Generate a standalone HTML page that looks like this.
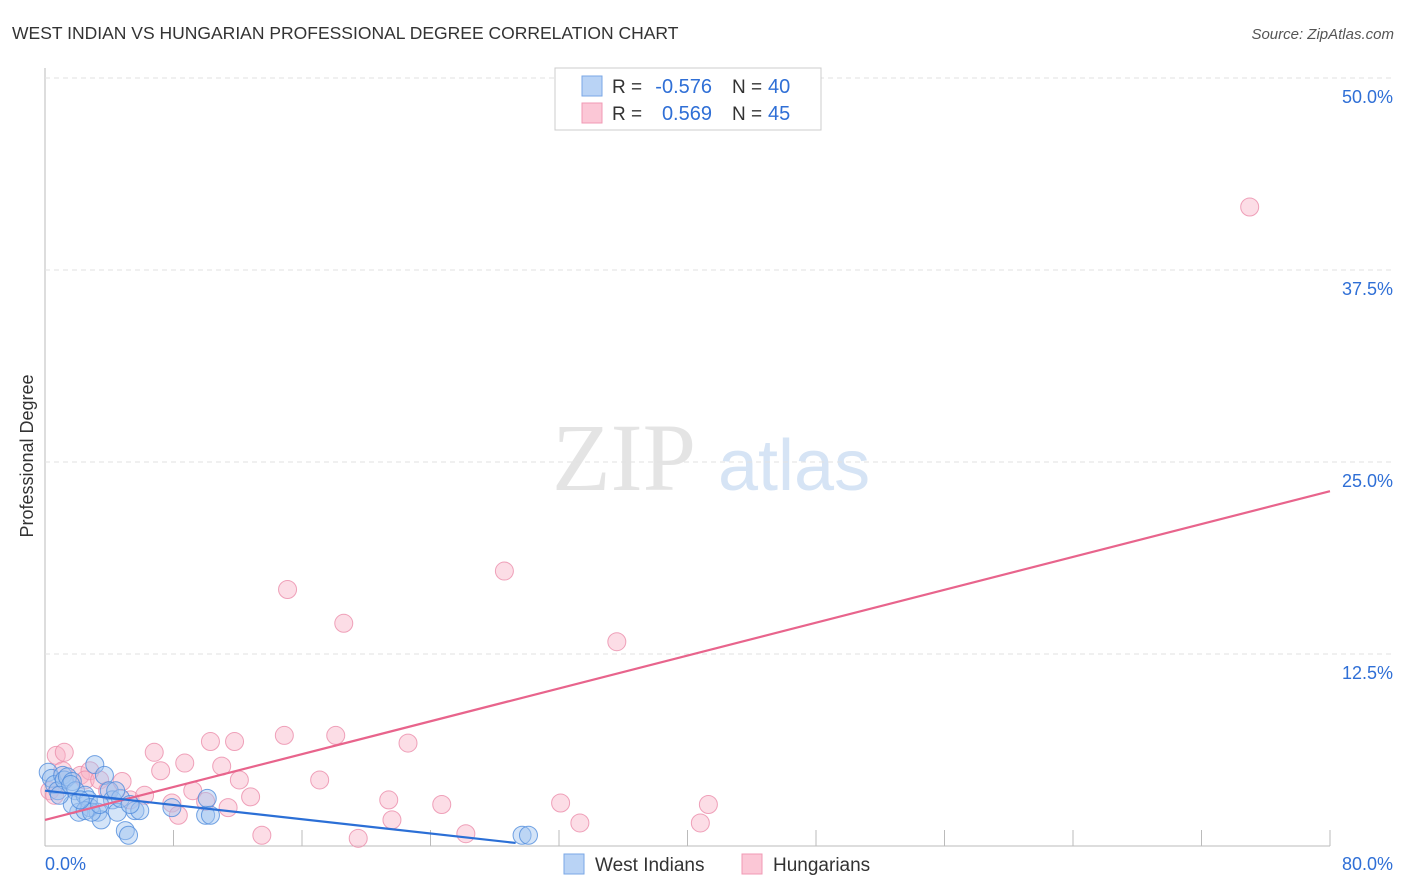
<!DOCTYPE html>
<html><head><meta charset="utf-8"><style>
body{margin:0;background:#fff;font-family:"Liberation Sans",sans-serif;}
#wrap{position:relative;width:1406px;height:892px;overflow:hidden}
</style></head><body>
<div id="wrap">
<svg id="svg" width="1406" height="892">
<text x="12" y="39" font-size="17.5" fill="#333">WEST INDIAN VS HUNGARIAN PROFESSIONAL DEGREE CORRELATION CHART</text>
<text x="1394" y="39" font-size="15" fill="#555" font-style="italic" text-anchor="end">Source: ZipAtlas.com</text>
<text x="33" y="456" font-size="18" fill="#333" text-anchor="middle" transform="rotate(-90 33 456)">Professional Degree</text>
<text x="552" y="490" font-size="96" fill="#e4e4e4" font-family="Liberation Serif,serif">ZIP</text>
<text x="718" y="490" font-size="72" fill="#d6e4f5">atlas</text>
<g id="grid"></g><g id="marks"></g>
<g>
<rect x="555" y="68" width="266" height="62" fill="#fff" stroke="#ccc"/>
<rect x="582" y="76" width="20" height="20" fill="#b9d3f5" stroke="#7aa7e6"/>
<rect x="582" y="103" width="20" height="20" fill="#fbc7d6" stroke="#f09ab4"/>
<text x="612" y="93" font-size="19" fill="#333">R =</text>
<text x="712" y="93" font-size="20" fill="#2f6fd6" text-anchor="end">-0.576</text>
<text x="732" y="93" font-size="19" fill="#333">N =</text>
<text x="768" y="93" font-size="20" fill="#2f6fd6">40</text>
<text x="612" y="120" font-size="19" fill="#333">R =</text>
<text x="712" y="120" font-size="20" fill="#2f6fd6" text-anchor="end">0.569</text>
<text x="732" y="120" font-size="19" fill="#333">N =</text>
<text x="768" y="120" font-size="20" fill="#2f6fd6">45</text>
</g>
<g>
<rect x="564" y="854" width="20" height="20" fill="#b9d3f5" stroke="#7aa7e6"/>
<text x="595" y="871" font-size="19" fill="#333">West Indians</text>
<rect x="742" y="854" width="20" height="20" fill="#fbc7d6" stroke="#f09ab4"/>
<text x="773" y="871" font-size="19" fill="#333">Hungarians</text>
</g>
</svg>
</div>
<script>
const blueX=[0.2,0.4,0.6,0.8,1.1,1.2,1.4,1.7,1.9,2.1,1.7,2.5,2.7,2.8,3.1,3.3,3.5,3.7,4.0,4.2,4.5,4.7,5.0,5.2,5.6,5.9,7.9,10.0,10.1,10.3,29.7,30.1,2.5,2.9,0.9,1.6,2.2,3.4,4.4,5.3];
const blueY=[4.8,4.4,4.0,3.6,4.6,4.3,4.5,4.2,3.6,2.2,2.7,3.3,3.0,2.5,5.3,2.2,1.7,4.6,3.6,3.0,2.2,3.1,1.0,0.7,2.3,2.3,2.5,2.0,3.1,2.0,0.7,0.7,2.3,2.2,3.3,4.0,3.0,2.7,3.6,2.7];
const pinkX=[0.7,1.2,0.3,0.6,1.1,2.2,2.8,2.5,3.4,3.9,4.8,5.3,6.2,6.8,7.2,7.9,8.3,8.7,9.2,10.0,10.3,11.0,11.4,11.8,12.1,12.8,13.5,14.9,15.1,17.1,18.1,18.6,19.5,21.4,21.6,22.6,24.7,26.2,28.6,32.1,33.3,35.6,40.8,41.3,75.0];
const pinkY=[5.9,6.1,3.6,3.3,4.9,4.6,4.9,4.3,4.3,3.6,4.2,3.0,3.3,6.1,4.9,2.8,2.0,5.4,3.6,2.9,6.8,5.2,2.5,6.8,4.3,3.2,0.7,7.2,16.7,4.3,7.2,14.5,0.5,3.0,1.7,6.7,2.7,0.8,17.9,2.8,1.5,13.3,1.5,2.7,41.6];
const blueTrend=[0,3.6,29.3,0.2];
const pinkTrend=[0,1.7,80,23.1];
const yTicks=[12.5,25,37.5,50];
const xTickLabels=["0.0%","80.0%"];
const X=v=>45+v*16.0625, Y=v=>846-v*15.36;
const NS="http://www.w3.org/2000/svg";
const grid=document.getElementById('grid'),marks=document.getElementById('marks');
function mk(p,tag,a){const e=document.createElementNS(NS,tag);for(const k in a)e.setAttribute(k,a[k]);p.appendChild(e);return e;}
let ax=mk(grid,'line',{x1:45,y1:68,x2:45,y2:846,stroke:'#bbb'});


let bx=mk(grid,'line',{x1:45,y1:846,x2:1330,y2:846,stroke:'#bbb'});


for(let i=1;i<=10;i++){const t=mk(grid,'line',{x1:X(i*8),y1:830,x2:X(i*8),y2:846,stroke:'#bbb'});

}
yTicks.forEach(v=>{const g=mk(grid,'line',{x1:45,y1:Y(v),x2:1394,y2:Y(v),stroke:'#e2e2e2','stroke-dasharray':'5,4'});


const t=mk(grid,'text',{x:1393,y:Y(v)+25,'font-size':18,fill:'#2f6fd6','text-anchor':'end'});t.textContent=v.toFixed(1)+'%';

});
[[45,'start'],[1393,'end']].forEach((p,i)=>{const t=mk(grid,'text',{x:p[0],y:870,'font-size':18,fill:'#2f6fd6','text-anchor':p[1]});t.textContent=xTickLabels[i];

});
pinkX.forEach((x,i)=>{const c=mk(marks,'circle',{cx:X(x),cy:Y(pinkY[i]),r:9,fill:'rgba(248,180,200,0.45)',stroke:'rgba(235,140,170,0.8)','stroke-width':1});

});
blueX.forEach((x,i)=>{const c=mk(marks,'circle',{cx:X(x),cy:Y(blueY[i]),r:9,fill:'rgba(160,196,240,0.45)',stroke:'rgba(80,140,220,0.8)','stroke-width':1});

});
let pl=mk(marks,'line',{x1:X(pinkTrend[0]),y1:Y(pinkTrend[1]),x2:X(pinkTrend[2]),y2:Y(pinkTrend[3]),stroke:'#e8648c','stroke-width':2.2});


let bl=mk(marks,'line',{x1:X(blueTrend[0]),y1:Y(blueTrend[1]),x2:X(blueTrend[2]),y2:Y(blueTrend[3]),stroke:'#2b6fd6','stroke-width':2.2});


</script>
</body></html>
